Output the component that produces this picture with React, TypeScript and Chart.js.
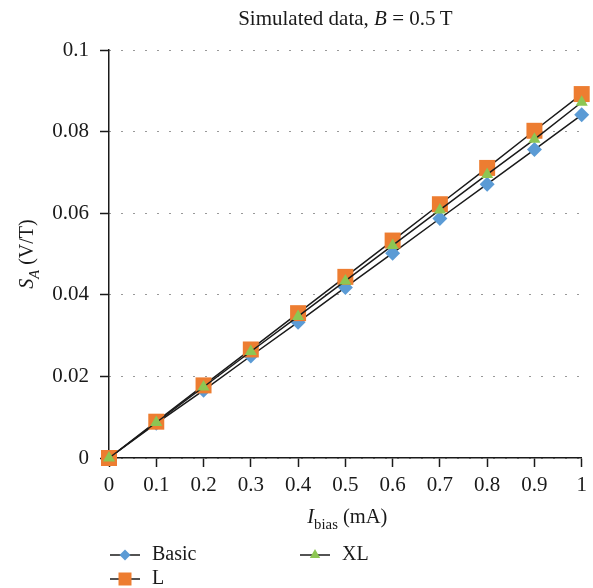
import React, { useEffect, useRef } from "react";
import { Chart, registerables } from "chart.js";

Chart.register(...registerables);

const xValues = [0, 0.1, 0.2, 0.3, 0.4, 0.5, 0.6, 0.7, 0.8, 0.9, 1];
const basicValues = [0, 0.0085, 0.0166, 0.025, 0.0333, 0.0418, 0.0502, 0.0587, 0.0671, 0.0756, 0.0841];
const lValues = [0, 0.0089, 0.0178, 0.0266, 0.0355, 0.0444, 0.0533, 0.0622, 0.0711, 0.0802, 0.0892];
const xlValues = [0, 0.0087, 0.0174, 0.0261, 0.0347, 0.0434, 0.0521, 0.0608, 0.0695, 0.0781, 0.0872];
const seriesNames = ["Basic", "L", "XL"];
const xTickValues = [0, 0.1, 0.2, 0.3, 0.4, 0.5, 0.6, 0.7, 0.8, 0.9, 1];
const xTickLabels = ["0", "0.1", "0.2", "0.3", "0.4", "0.5", "0.6", "0.7", "0.8", "0.9", "1"];
const yTickValues = [0, 0.02, 0.04, 0.06, 0.08, 0.1];
const yTickLabels = ["0", "0.02", "0.04", "0.06", "0.08", "0.1"];

const FONT = '"Liberation Serif", "Times New Roman", serif';

type Seg = { t: string; italic?: boolean; sub?: boolean };

function drawRich(ctx: CanvasRenderingContext2D, segs: Seg[], cx: number, y: number, size: number) {
  const parts = segs.map((s) => {
    const fs = s.sub ? size * 0.72 : size;
    ctx.font = `${s.italic ? "italic " : ""}${fs}px ${FONT}`;
    return { ...s, fs, w: ctx.measureText(s.t).width };
  });
  const total = parts.reduce((a, p) => a + p.w, 0);
  let x = cx - total / 2;
  ctx.textAlign = "left";
  ctx.textBaseline = "alphabetic";
  for (const p of parts) {
    ctx.font = `${p.italic ? "italic " : ""}${p.fs}px ${FONT}`;
    ctx.fillText(p.t, x, y + (p.sub ? size * 0.28 : 0));
    x += p.w;
  }
}

const textPlugin = {
  id: "textPlugin",
  afterDraw(chart: any) {
    const ctx: CanvasRenderingContext2D = chart.ctx;
    const area = chart.chartArea;
    const mid = (area.left + area.right) / 2;
    ctx.save();
    ctx.fillStyle = "#1a1a1a";
    // Title
    drawRich(ctx, [
      { t: "Simulated data, " },
      { t: "B", italic: true },
      { t: " = 0.5\u2009T" },
    ], mid, 25, 21);
    // X title
    drawRich(ctx, [
      { t: "I", italic: true },
      { t: "bias", sub: true },
      { t: " (mA)" },
    ], mid + 2, 523, 20.5);
    // Y title
    ctx.save();
    ctx.translate(33, (area.top + area.bottom) / 2);
    ctx.rotate(-Math.PI / 2);
    drawRich(ctx, [
      { t: "S", italic: true },
      { t: "A", italic: true, sub: true },
      { t: " (V/T)" },
    ], 0, 0, 20);
    ctx.restore();

    // Legend
    const items = [
      { idx: 0, x: 110, y: 555 },
      { idx: 2, x: 300, y: 555 },
      { idx: 1, x: 110, y: 579 },
    ];
    for (const it of items) {
      const ds = chart.data.datasets[it.idx];
      ctx.strokeStyle = "#1a1a1a";
      ctx.lineWidth = 1.5;
      ctx.beginPath();
      ctx.moveTo(it.x, it.y);
      ctx.lineTo(it.x + 30, it.y);
      ctx.stroke();
      ctx.fillStyle = ds.pointBackgroundColor;
      const cx = it.x + 15;
      ctx.beginPath();
      if (ds.pointStyle === "rectRot") {
        const r = 5.5;
        ctx.moveTo(cx - r, it.y);
        ctx.lineTo(cx, it.y - r);
        ctx.lineTo(cx + r, it.y);
        ctx.lineTo(cx, it.y + r);
      } else if (ds.pointStyle === "rect") {
        const h = 6.5;
        ctx.rect(cx - h, it.y - h, 2 * h, 2 * h);
      } else {
        const r = 6;
        ctx.moveTo(cx, it.y - r);
        ctx.lineTo(cx + r * 0.866, it.y + r / 2);
        ctx.lineTo(cx - r * 0.866, it.y + r / 2);
      }
      ctx.closePath();
      ctx.fill();
      ctx.fillStyle = "#1a1a1a";
      ctx.font = `20px ${FONT}`;
      ctx.textAlign = "left";
      ctx.textBaseline = "middle";
      ctx.fillText(ds.label, it.x + 42, it.y);
    }
    ctx.restore();
  },
};

export default function App() {
  const ref = useRef<HTMLCanvasElement | null>(null);
  useEffect(() => {
    if (!ref.current) return;
    const mk = (vals: number[]) => xValues.map((x, i) => ({ x, y: vals[i] }));
    const chart = new Chart(ref.current, {
      type: "scatter",
      data: {
        datasets: [
          {
            label: seriesNames[0],
            data: mk(basicValues),
            showLine: true,
            clip: false,
            borderColor: "#1a1a1a",
            borderWidth: 1.5,
            pointStyle: "rectRot",
            pointRadius: 7.5,
            pointHoverRadius: 7.5,
            pointBackgroundColor: "#5B9BD5",
            pointBorderWidth: 0,
            order: 3,
          },
          {
            label: seriesNames[1],
            data: mk(lValues),
            showLine: true,
            clip: false,
            borderColor: "#1a1a1a",
            borderWidth: 1.5,
            pointStyle: "rect",
            pointRadius: 11.3,
            pointHoverRadius: 11.3,
            pointBackgroundColor: "#ED7D31",
            pointBorderWidth: 0,
            order: 2,
          },
          {
            label: seriesNames[2],
            data: mk(xlValues),
            showLine: true,
            clip: false,
            borderColor: "#1a1a1a",
            borderWidth: 1.5,
            pointStyle: "triangle",
            pointRadius: 7,
            pointHoverRadius: 7,
            pointBackgroundColor: "#8DC653",
            pointBorderWidth: 0,
            order: 1,
          },
        ] as any,
      },
      options: {
        responsive: false,
        animation: false,
        layout: { padding: { left: 0, right: 11, top: 50, bottom: 0 } },
        plugins: {
          legend: { display: false },
          title: { display: false },
          tooltip: { enabled: false },
        },
        scales: {
          x: {
            type: "linear",
            min: 0,
            max: 1,
            afterBuildTicks: (s: any) => {
              s.ticks = xTickValues.map((v) => ({ value: v }));
            },
            afterFit: (s: any) => {
              s.height = 130;
            },
            ticks: {
              callback: (_v: any, i: number) => xTickLabels[i],
              color: "#1a1a1a",
              font: { family: FONT, size: 21 },
              padding: 6,
              maxRotation: 0,
              autoSkip: false,
            },
            grid: {
              drawOnChartArea: false,
              drawTicks: true,
              tickLength: 9,
              tickColor: "#1a1a1a",
              tickWidth: 1.5,
              color: "#1a1a1a",
            },
            border: { display: true, color: "#1a1a1a", width: 1.5 },
          },
          y: {
            type: "linear",
            min: 0,
            max: 0.1,
            afterBuildTicks: (s: any) => {
              s.ticks = yTickValues.map((v) => ({ value: v }));
            },
            afterFit: (s: any) => {
              s.width = 109;
            },
            ticks: {
              callback: (_v: any, i: number) => yTickLabels[i],
              color: "#1a1a1a",
              font: { family: FONT, size: 21 },
              padding: 11,
              autoSkip: false,
            },
            grid: {
              drawOnChartArea: true,
              drawTicks: true,
              tickLength: 9,
              tickColor: "#1a1a1a",
              tickWidth: 1.5,
              tickBorderDash: [],
              color: "#333333",
              lineWidth: 1,
            } as any,
            border: { display: true, color: "#1a1a1a", width: 1.5, dash: [1, 11] },
          },
        },
      } as any,
      plugins: [textPlugin],
    });
    return () => chart.destroy();
  }, []);
  return (
    <div style={{ position: "absolute", left: 0, top: 0, width: 593, height: 588, background: "#fff" }}>
      <canvas ref={ref} width={593} height={588} style={{ display: "block" }} />
    </div>
  );
}
